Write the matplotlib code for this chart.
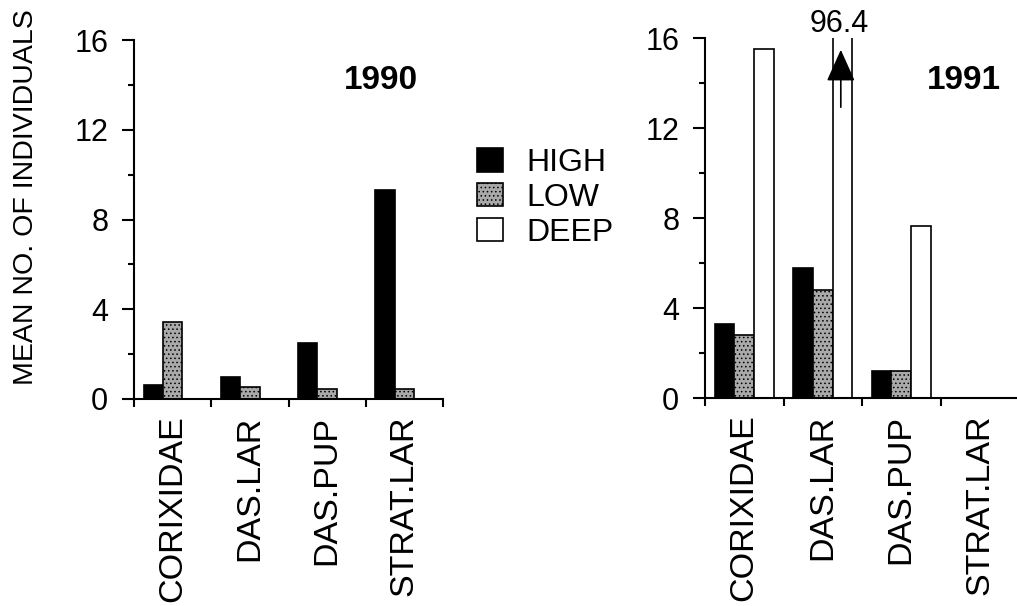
import numpy as np
import matplotlib
matplotlib.use("Agg")
import matplotlib.pyplot as plt
from matplotlib.patches import Patch

plt.rcParams['font.family'] = ['Liberation Sans', 'DejaVu Sans']
plt.rcParams['hatch.linewidth'] = 0.6

# --- data ---
categories = ["CORIXIDAE", "DAS.LAR", "DAS.PUP", "STRAT.LAR"]
high_1990 = [0.62, 0.98, 2.5, 9.3]
low_1990 = [3.44, 0.54, 0.45, 0.45]
high_1991 = [3.3, 5.8, 1.2, 0.0]
low_1991 = [2.8, 4.8, 1.2, 0.0]
deep_1991 = [15.5, 96.4, 7.65, 0.0]
deep_label = "96.4"

W = 0.25
low_style = dict(facecolor="#a9a9a9", edgecolor="black", hatch="....", linewidth=1.2)
high_style = dict(facecolor="black", edgecolor="black", linewidth=1.2)
deep_style = dict(facecolor="white", edgecolor="black", linewidth=1.2)

fig = plt.figure(figsize=(10.17, 6.06), dpi=100)
ax1 = fig.add_axes([134 / 1017, 1 - 399 / 606, 309 / 1017, 359 / 606])
ax2 = fig.add_axes([705 / 1017, 1 - 398 / 606, 314 / 1017, 360 / 606])


def style_axis(ax):
    ax.set_xlim(0, 4)
    ax.set_ylim(0, 16)
    for s in ["top", "right"]:
        ax.spines[s].set_visible(False)
    for s in ["left", "bottom"]:
        ax.spines[s].set_linewidth(1.5)
    ax.set_yticks([0, 4, 8, 12, 16])
    ax.set_yticks([2, 6, 10, 14], minor=True)
    ax.tick_params(axis="y", which="major", length=8.5, width=1.5, pad=10, labelsize=22)
    ax.tick_params(axis="y", which="minor", length=4, width=1.5)
    # boundaries get tick marks, category centres get the labels
    ax.set_xticks([0, 1, 2, 3, 4])
    ax.set_xticklabels([])
    ax.set_xticks(np.arange(4) + 0.5, minor=True)
    ax.set_xticklabels(categories, minor=True, rotation=90, va="top", fontsize=24.5)
    ax.tick_params(axis="x", which="major", length=6, width=1.5, direction="out")
    ax.tick_params(axis="x", which="minor", length=0, pad=12)


x = np.arange(len(categories)) + 0.5

ax1.bar(x - W, high_1990, W, **high_style)
ax1.bar(x, low_1990, W, **low_style)
style_axis(ax1)
ax1.text(3.2, 14.2, "1990", fontsize=24, fontweight="bold", ha="center", va="center")

ax2.bar(x - W, high_1991, W, **high_style)
ax2.bar(x, low_1991, W, **low_style)
ax2.bar(x + W, deep_1991, W, **deep_style)
style_axis(ax2)
ax2.text(3.3, 14.1, "1991", fontsize=24, fontweight="bold", ha="center", va="center")

# off-scale DEEP bar for DAS.LAR
ax2.annotate("", xy=(x[1] + W - 0.02, 15.6), xytext=(x[1] + W - 0.02, 12.8),
             arrowprops=dict(arrowstyle="-|>,head_length=1.0,head_width=0.45",
                             mutation_scale=20, color="black", lw=1.2))
ax2.text(x[1] + W - 0.04, 16.6, deep_label, fontsize=22, ha="center", va="center",
         clip_on=False)

fig.text(26 / 1017, 1 - 197 / 606, "MEAN NO. OF INDIVIDUALS", rotation=90,
         fontsize=20.5, ha="center", va="center")

handles = [Patch(**high_style), Patch(**low_style), Patch(**deep_style)]
fig.legend(handles, ["HIGH", "LOW", "DEEP"], loc="upper left",
           bbox_to_anchor=(477 / 1017, 1 - 148 / 606), frameon=False,
           fontsize=23, handlelength=0.8, handleheight=0.75, handletextpad=0.75,
           labelspacing=0.15, borderpad=0, borderaxespad=0)

fig.savefig("out.png", dpi=100)
